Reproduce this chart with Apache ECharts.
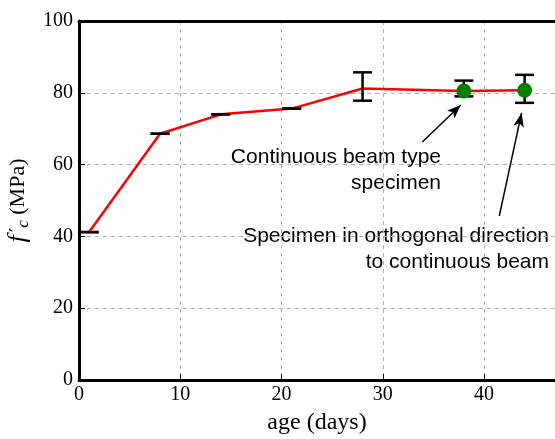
<!DOCTYPE html>
<html>
<head>
<meta charset="utf-8">
<script src="https://cdn.jsdelivr.net/npm/echarts@6/dist/echarts.min.js"></script>
<style>
  html, body { margin: 0; padding: 0; background: #fff; }
  #chart { width: 555px; height: 439px; }
</style>
</head>
<body>
<div id="chart"></div>
<script>
// compressive strength vs age
var days = [1, 8, 14, 21, 28, 38, 44];
var strength = [41.2, 68.6, 74.0, 75.6, 81.2, 80.5, 80.7];
var errLow = [41.2, 68.6, 74.0, 75.6, 77.8, 79.0, 77.2];
var errHigh = [41.2, 68.6, 74.0, 75.6, 85.7, 83.4, 85.0];
var specimenDays = [38, 44];
var specimenStrength = [80.5, 80.7];
var xTicks = [0, 10, 20, 30, 40];
var yTicks = [0, 20, 40, 60, 80, 100];

(function () {
  var chart = echarts.init(document.getElementById('chart'), null, { renderer: 'canvas' });
  var serif = '"Liberation Serif", "DejaVu Serif", serif';
  var sans = '"Liberation Sans", Arial, sans-serif';
  var grey = '#b0b0b0';

  var lineData = days.map(function (d, i) { return [d, strength[i]]; });
  var errData = days.map(function (d, i) { return [d, errLow[i], errHigh[i]]; });
  var dotData = specimenDays.map(function (d, i) { return [d, specimenStrength[i]]; });

  chart.setOption({
    backgroundColor: '#fff',
    animation: false,
    grid: { left: 79, right: 0, top: 21, bottom: 59, outerBoundsMode: 'none', containLabel: false },
    xAxis: [
      {
        type: 'value',
        min: 0,
        max: 47,
        interval: 10,
        name: 'age (days)',
        nameLocation: 'middle',
        nameGap: 31,
        nameTextStyle: { fontFamily: serif, fontSize: 24, color: '#000' },
        axisLine: { show: true, onZero: false, lineStyle: { color: '#000', width: 3 } },
        axisTick: { show: true, inside: true, length: 6, lineStyle: { color: '#000', width: 1 } },
        axisLabel: {
          color: '#000', fontFamily: serif, fontSize: 20, margin: 5, showMaxLabel: false,
          formatter: function (v) { return xTicks.indexOf(v) >= 0 ? String(v) : ''; }
        },
        splitLine: { show: true, lineStyle: { color: grey, type: [4, 4], width: 1 } }
      },
      {
        type: 'value',
        position: 'top',
        min: 0,
        max: 47,
        interval: 10,
        axisLine: { show: true, onZero: false, lineStyle: { color: '#000', width: 3 } },
        axisTick: { show: false },
        axisLabel: { show: false },
        splitLine: { show: false }
      }
    ],
    yAxis: {
      type: 'value',
      min: 0,
      max: 100,
      interval: 20,
      name: '{f|f}{p|\u2032}{s|c}{n| (MPa)}',
      nameLocation: 'middle',
      nameRotate: 90,
      nameGap: 29,
      nameTextStyle: {
        color: '#000',
        rich: {
          f: { fontFamily: serif, fontStyle: 'italic', fontSize: 26, color: '#000' },
          p: { fontFamily: '"DejaVu Serif", serif', fontSize: 20, color: '#000', padding: [0, 0, 0, 3] },
          s: { fontFamily: serif, fontStyle: 'italic', fontSize: 17, color: '#000', verticalAlign: 'bottom', padding: [10, 0, 0, 0] },
          n: { fontFamily: serif, fontSize: 22, color: '#000' }
        }
      },
      axisLine: { show: true, lineStyle: { color: '#000', width: 3 } },
      axisTick: { show: true, inside: true, length: 6, lineStyle: { color: '#000', width: 1 } },
      axisLabel: {
        color: '#000', fontFamily: serif, fontSize: 20, margin: 6,
        formatter: function (v) { return yTicks.indexOf(v) >= 0 ? String(v) : ''; }
      },
      splitLine: { show: true, lineStyle: { color: grey, type: [4, 4], width: 1 } }
    },
    series: [
      {
        type: 'line',
        data: lineData,
        symbol: 'none',
        lineStyle: { color: '#ff0000', width: 2.5 },
        z: 2,
        markLine: {
          silent: true,
          symbol: ['none', 'arrow'],
          symbolSize: [8, 14],
          label: { show: false },
          lineStyle: { color: '#000', width: 1.5, type: 'solid' },
          data: [
            [{ coord: [33.9, 66.3] }, { coord: [37.7, 76.6] }],
            [{ coord: [41.5, 45.7] }, { coord: [43.7, 74.4] }]
          ]
        }
      },
      {
        type: 'custom',
        data: errData,
        z: 3,
        renderItem: function (params, api) {
          var x = api.value(0);
          var lo = api.coord([x, api.value(1)]);
          var hi = api.coord([x, api.value(2)]);
          var hw = 9.5;
          var st = { stroke: '#000', lineWidth: 2.5 };
          return {
            type: 'group',
            children: [
              { type: 'line', shape: { x1: lo[0], y1: lo[1], x2: hi[0], y2: hi[1] }, style: st },
              { type: 'line', shape: { x1: lo[0] - hw, y1: lo[1], x2: lo[0] + hw, y2: lo[1] }, style: st },
              { type: 'line', shape: { x1: hi[0] - hw, y1: hi[1], x2: hi[0] + hw, y2: hi[1] }, style: st }
            ]
          };
        }
      },
      {
        type: 'scatter',
        data: dotData,
        symbol: 'circle',
        symbolSize: 15,
        itemStyle: { color: '#008000', opacity: 1 },
        z: 4
      }
    ],
    graphic: [
      {
        type: 'text',
        x: 441,
        y: 144,
        style: {
          text: 'Continuous beam type\nspecimen',
          font: '21px ' + sans,
          fill: '#000',
          align: 'right',
          lineHeight: 26
        }
      },
      {
        type: 'text',
        x: 549,
        y: 223,
        style: {
          text: 'Specimen in orthogonal direction\nto continuous beam',
          font: '21px ' + sans,
          fill: '#000',
          align: 'right',
          lineHeight: 26
        }
      }
    ]
  });

  window.addEventListener('resize', function () { chart.resize(); });
})();
</script>
</body>
</html>
